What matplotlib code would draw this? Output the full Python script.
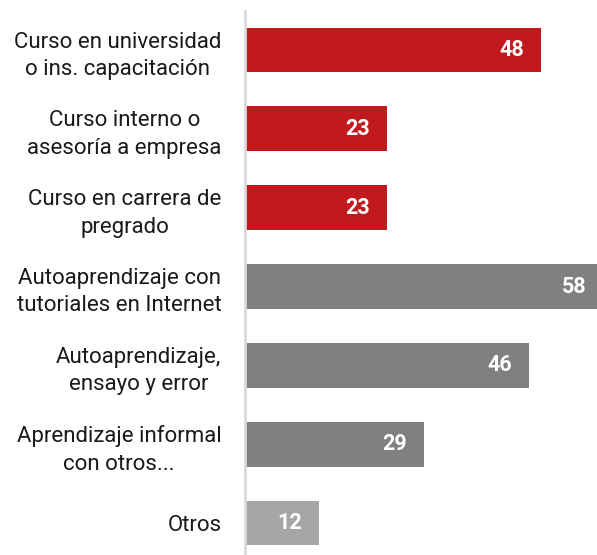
import matplotlib.pyplot as plt

# data
labels = [
    "Curso en universidad\no ins. capacitación",
    "Curso interno o\nasesoría a empresa",
    "Curso en carrera de\npregrado",
    "Autoaprendizaje con\ntutoriales en Internet",
    "Autoaprendizaje,\nensayo y error",
    "Aprendizaje informal\ncon otros...",
    "Otros",
]
values = [48, 23, 23, 58, 46, 29, 12]
colors = ["#C0191E"] * 3 + ["#808080"] * 3 + ["#A6A6A6"]

plt.rcParams["font.family"] = ["Roboto", "DejaVu Sans"]

fig = plt.figure(figsize=(5.97, 5.55), dpi=100)
ax = fig.add_axes([245 / 597, 0, 1 - 245 / 597, 544 / 555])

y = list(range(len(values)))
ax.barh(y, values, height=0.57, color=colors)

# value labels inside the bar end (58 runs past the edge, so don't clip)
for yi, v in zip(y, values):
    ax.annotate(str(v), (v, yi), xytext=(-12, 0), textcoords="offset points",
                ha="right", va="center", color="white", fontsize=15.5,
                fontweight="bold", annotation_clip=False)

ax.set_xlim(0, 57.05)
ax.set_ylim(6.406, -0.495)
ax.set_yticks(y)
ax.set_yticklabels(labels, fontsize=16, color="#1a1a1a", ha="right",
                   multialignment="center", linespacing=1.4)
ax.tick_params(axis="y", length=0, pad=17)
ax.set_xticks([])
for s in ["top", "right", "bottom"]:
    ax.spines[s].set_visible(False)
ax.spines["left"].set_color("#D9D9D9")
ax.spines["left"].set_linewidth(2)

fig.savefig("out.png", dpi=100)
